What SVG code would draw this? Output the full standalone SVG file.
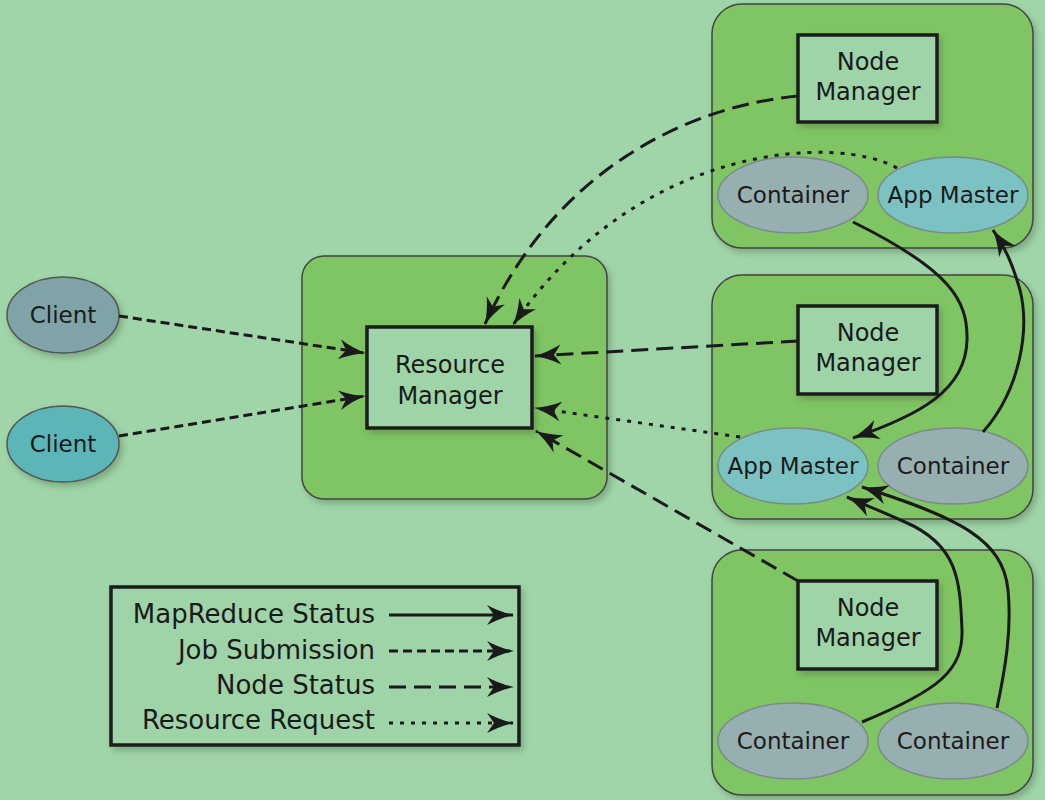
<svg xmlns="http://www.w3.org/2000/svg" width="1045" height="800" viewBox="0 0 1045 800">
<style>
text{font-family:"DejaVu Sans",sans-serif;fill:#1a1a1a;text-anchor:middle}
.box{fill:#9fd4a8;stroke:#1a1a1a;stroke-width:3.5}
.grp{fill:#80c564;stroke:#444;stroke-width:1.5}
.cont{fill:#97afb1;stroke:#7a8a8a;stroke-width:1.5}
.am{fill:#7dc2c2;stroke:#7a8a8a;stroke-width:1.5}
.nt{font-size:24px}
.et{font-size:23px}
.lt{font-size:26px;text-anchor:end}
.c{fill:none;stroke:#1a1a1a;stroke-width:3;marker-end:url(#ah)}
.solid{}
.job{stroke-dasharray:9 5}
.node{stroke-dasharray:17 8}
.req{stroke-dasharray:4 7}
</style>
<defs>
<marker id="ah" markerUnits="userSpaceOnUse" markerWidth="30" markerHeight="22" refX="26" refY="10" orient="auto">
<path d="M0,0 Q14,7.5 27,10 Q14,12.5 0,20 L7,10 z" fill="#1a1a1a"/>
</marker>
<filter id="sh" x="-10%" y="-10%" width="125%" height="125%">
<feDropShadow dx="3" dy="4" stdDeviation="3" flood-color="#3a5a3a" flood-opacity="0.35"/>
</filter>
</defs>
<rect width="1045" height="800" fill="#a0d5a9"/>

<g id="rm-group">
<rect class="grp" x="302" y="256" width="305" height="243" rx="22" filter="url(#sh)"/>
</g>
<g id="node1-group">
<rect class="grp" x="712" y="4" width="321" height="244" rx="30" filter="url(#sh)"/>
</g>
<g id="node2-group">
<rect class="grp" x="712" y="275" width="321" height="244" rx="30" filter="url(#sh)"/>
</g>
<g id="node3-group">
<rect class="grp" x="712" y="550" width="321" height="245" rx="30" filter="url(#sh)"/>
</g>

<g id="client1">
<ellipse cx="63" cy="315" rx="56" ry="38" fill="#7fa3a6" stroke="#555" stroke-width="1.5" filter="url(#sh)"/>
<text class="et" x="63" y="323">Client</text>
</g>
<g id="client2">
<ellipse cx="63" cy="444" rx="56" ry="38" fill="#5bb6b7" stroke="#555" stroke-width="1.5" filter="url(#sh)"/>
<text class="et" x="63" y="452">Client</text>
</g>

<g id="resource-manager">
<rect class="box" x="367" y="327" width="165" height="101" filter="url(#sh)"/>
<text class="nt" x="450" y="373">Resource</text>
<text class="nt" x="450" y="404">Manager</text>
</g>

<g id="nm1">
<rect class="box" x="798" y="35" width="139" height="87" filter="url(#sh)"/>
<text class="nt" x="868" y="70">Node</text>
<text class="nt" x="868" y="100">Manager</text>
</g>
<g id="container1">
<ellipse class="cont" cx="793" cy="195" rx="75" ry="38"/>
<text class="et" x="793" y="203">Container</text>
</g>
<g id="appmaster1">
<ellipse class="am" cx="953" cy="195" rx="75" ry="38"/>
<text class="et" x="953" y="203">App Master</text>
</g>

<g id="nm2">
<rect class="box" x="798" y="306" width="139" height="88" filter="url(#sh)"/>
<text class="nt" x="868" y="341">Node</text>
<text class="nt" x="868" y="371">Manager</text>
</g>
<g id="appmaster2">
<ellipse class="am" cx="793" cy="466" rx="75" ry="38"/>
<text class="et" x="793" y="474">App Master</text>
</g>
<g id="container2">
<ellipse class="cont" cx="953" cy="466" rx="75" ry="38"/>
<text class="et" x="953" y="474">Container</text>
</g>

<g id="nm3">
<rect class="box" x="798" y="581" width="139" height="88" filter="url(#sh)"/>
<text class="nt" x="868" y="616">Node</text>
<text class="nt" x="868" y="646">Manager</text>
</g>
<g id="container3">
<ellipse class="cont" cx="793" cy="741" rx="75" ry="38"/>
<text class="et" x="793" y="749">Container</text>
</g>
<g id="container4">
<ellipse class="cont" cx="953" cy="741" rx="75" ry="38"/>
<text class="et" x="953" y="749">Container</text>
</g>

<g id="connectors">
<path class="c job" d="M119,316 L365,353"/>
<path class="c job" d="M119,436 L365,396"/>
<path class="c node" d="M798,96 C700,105 560,160 485,324"/>
<path class="c req" d="M897,168 C840,135 640,140 513,325"/>
<path class="c node" d="M798,341 L535,356"/>
<path class="c req" d="M740,437 L535,408"/>
<path class="c node" d="M798,581 L536,431"/>
<path class="c solid" d="M853,222 C950,270 968,300 967,340 C966,390 920,415 853,438"/>
<path class="c solid" d="M983,432 C1020,390 1030,330 1020,290 C1012,262 1005,248 993,230"/>
<path class="c solid" d="M862,722 C940,690 963,670 962,630 C960,580 958,545 905,522 C885,513 868,506 847,497"/>
<path class="c solid" d="M997,708 C1005,670 1012,630 1008,590 C1003,540 960,518 862,487"/>
</g>

<g id="legend">
<rect class="box" x="111" y="587" width="408" height="158" filter="url(#sh)"/>
<text class="lt" x="375" y="623">MapReduce Status</text>
<text class="lt" x="375" y="659">Job Submission</text>
<text class="lt" x="375" y="694">Node Status</text>
<text class="lt" x="375" y="729">Resource Request</text>
<path class="c solid" d="M389,615 L513,615"/>
<path class="c job" d="M389,651 L513,651"/>
<path class="c node" d="M389,687 L513,687"/>
<path class="c req" d="M389,723 L513,723"/>
</g>
</svg>
